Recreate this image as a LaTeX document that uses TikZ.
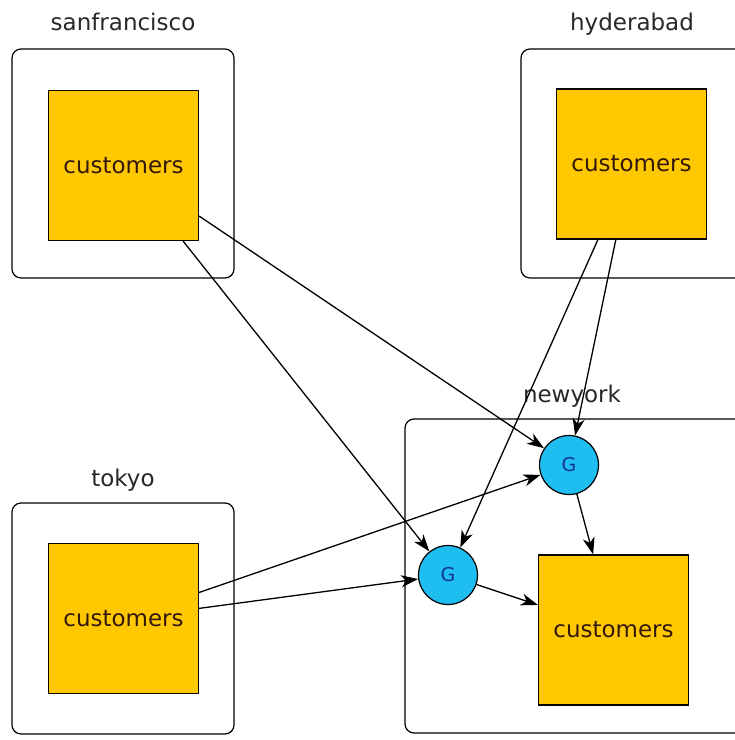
\documentclass[tikz,border=0pt]{standalone}
\usepackage{fontspec}
\setmainfont{DejaVu Sans}
\usetikzlibrary{arrows.meta}
\definecolor{custfill}{RGB}{255,200,0}
\definecolor{gfill}{RGB}{30,190,240}
\definecolor{gtext}{RGB}{20,50,140}
\definecolor{custtext}{RGB}{50,25,10}
\definecolor{labtext}{RGB}{40,40,40}
\tikzset{
  region/.style={draw=black, line width=1.2pt, rounded corners=9pt, fill=white, inner sep=0pt},
  cust/.style={draw=black!80!custtext, line width=1.2pt, fill=custfill, inner sep=0pt,
    minimum width=150pt, minimum height=150pt, text=custtext,
    font=\fontsize{23}{27}\selectfont},
  gnode/.style={circle, draw=black, line width=1.2pt, fill=gfill, inner sep=0pt,
    minimum size=59pt, text=gtext, font=\fontsize{19}{22}\selectfont},
  lab/.style={text=labtext, font=\fontsize{23}{27}\selectfont, anchor=base},
  conn/.style={draw=black, line width=1.3pt, -{Stealth[length=17pt,width=12pt,inset=5pt]}}
}
\begin{document}
\begin{tikzpicture}[x=1pt,y=-1pt]
\useasboundingbox (0,0) rectangle (735,740);
\fill[white] (0,0) rectangle (735,740);
% region boxes
\draw[region] (12,49) rectangle (234,278);
\draw[region] (521,49) rectangle (760,278);
\draw[region] (12,503) rectangle (234,734);
\draw[region] (405,419) rectangle (760,733);
% labels
\node[lab] (lsf) at (123,30) {sanfrancisco};
\node[lab] (lhy) at (632,30) {hyderabad};
\node[lab] (ltk) at (123,486) {tokyo};
\node[lab] (lny) at (572,402) {newyork};
% customers
\node[cust] (sf) at (123.5,165.5) {customers};
\node[cust] (hy) at (631.5,164) {customers};
\node[cust] (tk) at (123.5,618.5) {customers};
\node[cust] (ny) at (613.5,630) {customers};
% G nodes
\node[gnode] (g1) at (569,465) {G};
\node[gnode] (g2) at (448,575) {G};
% connectors
\draw[conn] (sf) -- (g1);
\draw[conn] (sf) -- (g2);
\draw[conn] (hy) -- (g2);
\draw[conn] (hy) -- (g1);
\draw[conn] (tk) -- (g1);
\draw[conn] (tk) -- (g2);
\draw[conn] (g1) -- (ny);
\draw[conn] (g2) -- (ny);
\end{tikzpicture}
\end{document}
